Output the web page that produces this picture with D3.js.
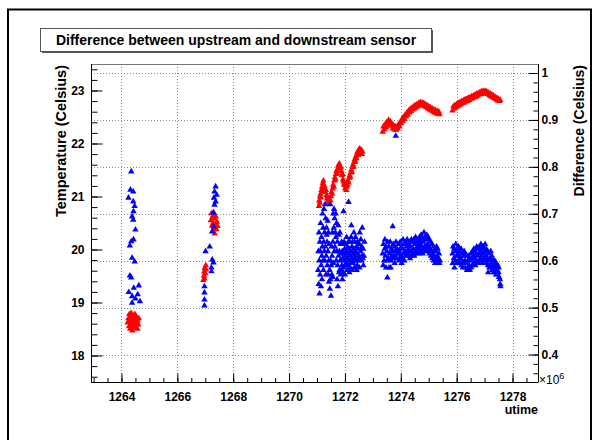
<!DOCTYPE html>
<html><head><meta charset="utf-8">
<script src="https://cdn.jsdelivr.net/npm/d3@7"></script>
<style>
body{margin:0;background:#fff}
svg{display:block}
text{font-family:"Liberation Sans",Arial,Helvetica,sans-serif}
</style>
</head><body><svg id="c" width="600" height="440"></svg>
<script>
// ---------- data ----------
const titleText = "Difference between upstream and downstream sensor";
const xLabel = "utime";
const leftLabel = "Temperature (Celsius)";
const rightLabel = "Difference (Celsius)";
const xTicks = [1264,1266,1268,1270,1272,1274,1276,1278];
const tempTicks = [18,19,20,21,22,23];
const diffTicks = [0.4,0.5,0.6,0.7,0.8,0.9,1];

// red: temperature (left axis), [utime/1e6, Celsius]
const redPoints = [
[1264.22,18.62],[1264.25,18.70],[1264.27,18.55],[1264.28,18.78],[1264.30,18.66],[1264.31,18.50],[1264.33,18.72],
[1264.34,18.60],[1264.35,18.80],[1264.36,18.55],[1264.38,18.68],[1264.39,18.47],[1264.40,18.62],[1264.41,18.75],
[1264.43,18.58],[1264.44,18.70],[1264.45,18.52],[1264.46,18.64],[1264.48,18.78],[1264.49,18.60],[1264.50,18.68],
[1264.52,18.55],[1264.53,18.72],[1264.55,18.63],[1264.57,18.50],[1264.58,18.66],[1264.60,18.58],[1264.62,18.70],
[1266.93,19.42],[1266.95,19.50],[1266.96,19.58],[1266.97,19.45],[1266.98,19.65],[1267.00,19.55],[1267.02,19.70],[1267.03,19.62],
[1267.20,20.55],[1267.22,20.68],[1267.24,20.45],[1267.26,20.62],[1267.27,20.35],[1267.28,20.50],[1267.30,20.70],
[1267.31,20.40],[1267.33,20.58],[1267.34,20.30],[1267.36,20.48],[1267.38,20.62],[1267.40,20.38],[1267.42,20.52],[1267.44,20.44],
[1271.07,20.82],[1271.08,20.92],[1271.10,20.88],[1271.11,21.00],[1271.13,21.05],[1271.14,20.98],[1271.16,21.12],
[1271.18,21.18],[1271.19,21.10],[1271.21,21.25],[1271.23,21.30],[1271.24,21.22],
[1271.26,21.20],[1271.28,21.14],[1271.30,21.08],[1271.32,21.12],[1271.34,21.02],[1271.36,20.96],[1271.38,21.00],
[1271.40,20.92],[1271.42,20.88],[1271.44,20.95],[1271.46,20.86],
[1271.48,20.92],[1271.50,21.00],[1271.52,21.08],[1271.54,21.05],[1271.56,21.15],[1271.58,21.22],[1271.60,21.18],
[1271.62,21.30],[1271.64,21.36],[1271.66,21.32],[1271.68,21.42],[1271.70,21.48],[1271.72,21.44],[1271.74,21.52],
[1271.76,21.58],[1271.78,21.54],[1271.80,21.62],[1271.82,21.58],
[1271.85,21.55],[1271.87,21.48],[1271.89,21.40],[1271.91,21.42],[1271.93,21.32],[1271.95,21.28],[1271.97,21.22],
[1271.99,21.25],[1272.01,21.15],[1272.03,21.20],[1272.05,21.12],[1272.07,21.18],
[1272.09,21.22],[1272.11,21.30],[1272.13,21.26],[1272.15,21.35],[1272.17,21.40],[1272.19,21.36],[1272.21,21.45],
[1272.23,21.50],[1272.25,21.46],[1272.27,21.55],[1272.29,21.60],[1272.31,21.56],[1272.33,21.65],[1272.35,21.70],
[1272.37,21.66],[1272.39,21.75],[1272.41,21.72],[1272.43,21.80],[1272.45,21.84],[1272.47,21.78],[1272.49,21.88],
[1272.51,21.85],[1272.53,21.90],[1272.55,21.86],[1272.57,21.82],[1272.59,21.88],[1272.61,21.80],[1272.63,21.84],
[1273.35,22.22],[1273.38,22.32],[1273.41,22.26],[1273.44,22.36],[1273.47,22.30],[1273.50,22.40],[1273.53,22.34],
[1273.56,22.44],[1273.59,22.38],[1273.62,22.42],[1273.65,22.33],[1273.68,22.37],[1273.71,22.28],[1273.74,22.34],
[1273.77,22.26],[1273.80,22.32],[1273.83,22.25],[1273.86,22.31],[1273.89,22.28],[1273.92,22.36],[1273.95,22.32],
[1273.98,22.40],[1274.01,22.38],[1274.04,22.46],[1274.07,22.42],[1274.10,22.50],[1274.13,22.46],[1274.16,22.54],
[1274.19,22.51],[1274.22,22.58],[1274.25,22.54],[1274.28,22.62],[1274.31,22.58],[1274.34,22.65],[1274.37,22.61],
[1274.40,22.67],[1274.43,22.64],[1274.46,22.70],[1274.49,22.66],[1274.52,22.72],[1274.55,22.68],[1274.58,22.74],
[1274.61,22.70],[1274.64,22.76],[1274.67,22.72],[1274.70,22.78],[1274.73,22.73],[1274.76,22.77],[1274.79,22.72],
[1274.82,22.76],[1274.85,22.70],[1274.88,22.74],[1274.91,22.68],[1274.94,22.72],[1274.97,22.66],[1275.00,22.70],
[1275.03,22.64],[1275.06,22.68],[1275.09,22.62],[1275.12,22.66],[1275.15,22.60],[1275.18,22.64],[1275.21,22.58],
[1275.24,22.63],[1275.27,22.57],[1275.30,22.61],[1275.33,22.56],[1275.36,22.60],[1275.39,22.55],
[1275.85,22.62],[1275.88,22.70],[1275.91,22.66],[1275.94,22.72],[1275.97,22.68],[1276.00,22.74],[1276.03,22.70],
[1276.06,22.76],[1276.09,22.72],[1276.12,22.78],[1276.15,22.74],[1276.18,22.80],[1276.21,22.76],[1276.24,22.81],
[1276.27,22.77],[1276.30,22.83],[1276.33,22.79],[1276.36,22.84],[1276.39,22.80],[1276.42,22.86],[1276.45,22.82],
[1276.48,22.87],[1276.51,22.84],[1276.54,22.89],[1276.57,22.85],[1276.60,22.90],[1276.63,22.87],[1276.66,22.92],
[1276.69,22.88],[1276.72,22.94],[1276.75,22.90],[1276.78,22.95],[1276.81,22.92],[1276.84,22.97],[1276.87,22.93],
[1276.90,22.98],[1276.93,22.94],[1276.96,22.99],[1276.99,22.95],[1277.02,22.99],[1277.05,22.94],[1277.08,22.98],
[1277.11,22.93],[1277.14,22.96],[1277.17,22.91],[1277.20,22.94],[1277.23,22.89],[1277.26,22.92],[1277.29,22.87],
[1277.32,22.90],[1277.35,22.85],[1277.38,22.88],[1277.41,22.83],[1277.44,22.86],[1277.47,22.81],[1277.50,22.84],
[1277.53,22.80],[1277.56,22.82]
];

// blue: difference (right axis), [utime/1e6, Celsius]
const bluePoints = [
[1264.35,0.790],[1264.32,0.751],[1264.42,0.747],[1264.25,0.734],[1264.42,0.726],[1264.47,0.716],[1264.43,0.705],
[1264.38,0.694],[1264.42,0.687],[1264.50,0.666],[1264.43,0.645],[1264.35,0.641],[1264.30,0.632],[1264.38,0.606],
[1264.47,0.598],[1264.30,0.568],[1264.35,0.564],[1264.62,0.547],[1264.44,0.542],[1264.26,0.533],[1264.38,0.524],
[1264.58,0.528],[1264.50,0.519],[1264.66,0.513],[1264.38,0.510],
[1267.37,0.758],[1267.33,0.747],[1267.41,0.740],[1267.31,0.734],[1267.37,0.726],[1267.33,0.719],[1267.29,0.702],
[1267.29,0.673],[1267.25,0.662],[1267.16,0.630],[1267.01,0.620],[1267.25,0.602],[1267.29,0.596],[1267.22,0.585],
[1267.22,0.577],[1266.97,0.545],[1266.97,0.532],[1266.97,0.517],[1266.97,0.504],
[1271.04,0.58],[1271.05,0.62],[1271.06,0.55],[1271.07,0.66],[1271.08,0.60],[1271.09,0.53],[1271.10,0.64],
[1271.11,0.57],[1271.12,0.62],[1271.13,0.68],[1271.14,0.545],[1271.15,0.59],[1271.16,0.65],[1271.17,0.61],
[1271.18,0.56],[1271.19,0.63],[1271.20,0.70],[1271.21,0.60],[1271.22,0.67],[1271.23,0.58],[1271.24,0.64],
[1271.25,0.71],[1271.26,0.62],[1271.27,0.66],[1271.28,0.60],[1271.29,0.72],[1271.30,0.63],[1271.31,0.69],
[1271.32,0.57],[1271.33,0.61],[1271.34,0.67],[1271.35,0.655],[1271.36,0.64],[1271.37,0.59],[1271.38,0.685],
[1271.39,0.62],[1271.40,0.57],[1271.41,0.66],[1271.42,0.60],[1271.43,0.555],[1271.44,0.635],[1271.45,0.58],
[1271.46,0.54],[1271.47,0.72],[1271.48,0.56],[1271.49,0.60],[1271.50,0.525],[1271.51,0.59],[1271.52,0.63],
[1271.53,0.57],[1271.54,0.61],[1271.55,0.66],[1271.56,0.565],[1271.57,0.64],[1271.58,0.70],[1271.59,0.595],
[1271.60,0.67],[1271.61,0.71],[1271.62,0.62],[1271.63,0.69],[1271.64,0.63],[1271.66,0.66],[1271.67,0.70],
[1271.68,0.65],[1271.69,0.60],[1271.70,0.68],[1271.71,0.62],[1271.72,0.56],[1271.73,0.64],[1271.74,0.59],
[1271.75,0.545],[1271.76,0.675],[1271.77,0.61],[1271.78,0.655],[1271.79,0.575],[1271.80,0.62],[1271.81,0.58],
[1271.82,0.66],[1271.83,0.60],[1271.84,0.635],[1271.85,0.57],[1271.86,0.615],[1271.87,0.58],[1271.88,0.64],
[1271.89,0.59],[1271.90,0.62],[1271.91,0.56],[1271.92,0.605],[1271.93,0.635],[1271.94,0.575],[1271.95,0.705],
[1271.95,0.585],[1271.96,0.615],[1271.97,0.64],[1271.98,0.60],[1271.99,0.625],[1272.00,0.57],[1272.01,0.61],
[1272.02,0.59],[1272.03,0.635],[1272.04,0.595],[1272.05,0.62],[1272.06,0.65],[1272.07,0.605],[1272.08,0.58],
[1272.09,0.63],[1272.10,0.615],[1272.11,0.59],[1272.12,0.64],[1272.13,0.725],[1272.14,0.60],[1272.15,0.625],
[1272.16,0.575],[1272.17,0.61],[1272.18,0.64],[1272.19,0.585],[1272.20,0.62],[1272.21,0.595],[1272.22,0.65],
[1272.23,0.675],[1272.24,0.605],[1272.25,0.63],[1272.26,0.58],[1272.27,0.615],[1272.28,0.64],[1272.29,0.595],
[1272.30,0.60],[1272.31,0.625],[1272.32,0.66],[1272.33,0.61],[1272.34,0.585],[1272.35,0.64],[1272.36,0.62],
[1272.37,0.60],[1272.38,0.65],[1272.40,0.605],[1272.41,0.63],[1272.42,0.58],[1272.43,0.615],[1272.44,0.59],
[1272.45,0.64],[1272.46,0.60],[1272.47,0.625],[1272.48,0.605],[1272.50,0.61],[1272.51,0.635],[1272.52,0.585],
[1272.53,0.66],[1272.55,0.605],[1272.56,0.62],[1272.57,0.645],[1272.59,0.60],[1272.60,0.63],[1272.61,0.61],
[1272.62,0.67],[1272.64,0.605],[1272.65,0.625],[1272.66,0.59],[1272.68,0.61],[1272.70,0.64],
[1273.35,0.615],[1273.37,0.59],[1273.38,0.635],[1273.40,0.60],[1273.42,0.625],[1273.43,0.645],[1273.45,0.61],
[1273.47,0.585],[1273.48,0.63],[1273.50,0.62],[1273.51,0.60],[1273.52,0.564],[1273.53,0.64],[1273.55,0.605],
[1273.57,0.63],[1273.58,0.585],[1273.60,0.615],[1273.62,0.64],[1273.64,0.585],[1273.65,0.60],[1273.67,0.625],
[1273.68,0.61],[1273.70,0.62],[1273.71,0.673],[1273.72,0.605],[1273.73,0.635],[1273.75,0.61],[1273.77,0.63],
[1273.78,0.595],[1273.80,0.62],[1273.82,0.866],[1273.83,0.64],[1273.85,0.605],[1273.87,0.625],[1273.88,0.615],
[1273.90,0.615],[1273.92,0.635],[1273.93,0.60],[1273.95,0.62],[1273.97,0.605],[1273.98,0.64],[1274.00,0.61],
[1274.02,0.63],[1274.03,0.595],[1274.05,0.625],[1274.07,0.605],[1274.08,0.645],[1274.10,0.615],[1274.12,0.635],
[1274.13,0.60],[1274.15,0.62],[1274.17,0.64],[1274.18,0.61],[1274.20,0.63],[1274.22,0.61],[1274.23,0.645],
[1274.25,0.615],[1274.27,0.635],[1274.28,0.625],[1274.30,0.62],[1274.32,0.64],[1274.33,0.605],[1274.35,0.63],
[1274.37,0.61],[1274.38,0.645],[1274.40,0.62],[1274.42,0.64],[1274.43,0.615],[1274.45,0.625],[1274.47,0.645],
[1274.48,0.61],[1274.50,0.635],[1274.52,0.615],[1274.53,0.65],[1274.55,0.62],[1274.57,0.64],[1274.58,0.63],
[1274.60,0.63],[1274.62,0.645],[1274.63,0.615],[1274.65,0.625],[1274.67,0.65],[1274.68,0.64],[1274.70,0.635],
[1274.72,0.62],[1274.73,0.655],[1274.75,0.63],[1274.77,0.645],[1274.78,0.615],[1274.80,0.64],[1274.82,0.625],
[1274.83,0.66],[1274.85,0.63],[1274.87,0.65],[1274.88,0.62],[1274.90,0.645],[1274.92,0.625],[1274.93,0.655],
[1274.95,0.635],[1274.97,0.62],[1274.98,0.65],[1275.00,0.63],[1275.02,0.645],[1275.03,0.615],[1275.05,0.625],
[1275.07,0.64],[1275.08,0.61],[1275.10,0.62],[1275.12,0.635],[1275.13,0.605],[1275.15,0.615],[1275.17,0.63],
[1275.18,0.60],[1275.20,0.61],[1275.22,0.625],[1275.23,0.595],[1275.25,0.62],[1275.27,0.605],[1275.28,0.63],
[1275.30,0.61],[1275.32,0.625],[1275.33,0.60],[1275.35,0.605],[1275.37,0.615],[1275.38,0.595],[1275.40,0.60],
[1275.85,0.615],[1275.86,0.595],[1275.87,0.63],[1275.90,0.605],[1275.91,0.625],[1275.92,0.585],[1275.95,0.62],
[1275.96,0.60],[1275.97,0.635],[1276.00,0.61],[1276.01,0.625],[1276.02,0.595],[1276.05,0.615],[1276.06,0.60],
[1276.07,0.63],[1276.10,0.61],[1276.11,0.62],[1276.12,0.595],[1276.15,0.605],[1276.16,0.625],[1276.17,0.59],
[1276.20,0.60],[1276.21,0.615],[1276.22,0.585],[1276.25,0.61],[1276.26,0.595],[1276.27,0.62],[1276.30,0.60],
[1276.31,0.585],[1276.32,0.615],[1276.35,0.595],[1276.36,0.61],[1276.37,0.58],[1276.40,0.60],[1276.41,0.585],
[1276.42,0.61],[1276.45,0.59],[1276.46,0.605],[1276.47,0.58],[1276.50,0.60],[1276.51,0.615],[1276.52,0.585],
[1276.55,0.605],[1276.56,0.59],[1276.57,0.62],[1276.60,0.61],[1276.61,0.595],[1276.62,0.625],[1276.65,0.605],
[1276.66,0.62],[1276.67,0.59],[1276.70,0.615],[1276.71,0.60],[1276.72,0.63],[1276.75,0.61],[1276.76,0.625],
[1276.77,0.595],[1276.80,0.615],[1276.81,0.60],[1276.82,0.63],[1276.85,0.62],[1276.86,0.605],[1276.87,0.635],
[1276.90,0.61],[1276.91,0.625],[1276.92,0.595],[1276.95,0.615],[1276.96,0.63],[1276.97,0.60],[1277.00,0.62],
[1277.01,0.605],[1277.02,0.635],[1277.05,0.61],[1277.06,0.625],[1277.07,0.595],[1277.10,0.605],[1277.11,0.62],
[1277.12,0.59],[1277.13,0.575],[1277.15,0.60],[1277.16,0.615],[1277.17,0.585],[1277.20,0.605],[1277.21,0.59],
[1277.22,0.62],[1277.25,0.595],[1277.26,0.61],[1277.27,0.58],[1277.30,0.60],[1277.31,0.585],[1277.32,0.575],
[1277.35,0.59],[1277.36,0.60],[1277.37,0.575],[1277.40,0.585],[1277.41,0.57],[1277.42,0.595],[1277.45,0.58],
[1277.46,0.57],[1277.47,0.59],[1277.50,0.575],[1277.51,0.585],[1277.52,0.565],[1277.55,0.56],[1277.56,0.55],
[1277.57,0.545]
];

// ---------- drawing ----------
const svg = d3.select("#c");
const W = 600, H = 440;
const plot = {l: 91, r: 538, t: 64, b: 382};

svg.append("rect").attr("width", W).attr("height", H).attr("fill", "#fff");
svg.append("rect").attr("x", 8).attr("y", 9.5).attr("width", 583).attr("height", 440)
  .attr("fill", "none").attr("stroke", "#000").attr("stroke-width", 2);

const x = d3.scaleLinear().domain([1262.908, 1278.913]).range([plot.l, plot.r]);
const yT = d3.scaleLinear().domain([17.5, 23.5]).range([plot.b, plot.t]);
const yD = d3.scaleLinear().domain([0.3414, 1.0192]).range([plot.b, plot.t]);

// grid
const grid = svg.append("g").attr("stroke", "#8a8a8a").attr("stroke-dasharray", "1,2").attr("stroke-width", 1);
grid.selectAll(".gx").data(xTicks).join("line")
  .attr("x1", d => Math.round(x(d)) + 0.5).attr("x2", d => Math.round(x(d)) + 0.5)
  .attr("y1", plot.t).attr("y2", plot.b);
grid.selectAll(".gy").data(diffTicks).join("line")
  .attr("x1", plot.l).attr("x2", plot.r)
  .attr("y1", d => Math.round(yD(d)) + 0.5).attr("y2", d => Math.round(yD(d)) + 0.5);

// frame
svg.append("rect").attr("x", plot.l + 0.5).attr("y", plot.t + 0.5)
  .attr("width", plot.r - plot.l).attr("height", plot.b - plot.t)
  .attr("fill", "none").attr("stroke", "#777");

// data
const tri = d3.symbol(d3.symbolTriangle, 18);
svg.append("g").selectAll("path").data(redPoints).join("path")
  .attr("d", tri).attr("fill", "#ff0000")
  .attr("transform", d => `translate(${x(d[0])},${yT(d[1])})`);
svg.append("g").selectAll("path").data(bluePoints).join("path")
  .attr("d", tri).attr("fill", "#0000ff")
  .attr("transform", d => `translate(${x(d[0])},${yD(d[1])})`);

// axes
function styleAxis(g) {
  g.selectAll("text").attr("font-size", 12).attr("font-weight", "bold").attr("fill", "#000")
   .attr("font-family", '"Liberation Sans",Arial,Helvetica,sans-serif');
  g.selectAll("line").attr("stroke", "#000");
  g.select(".domain").attr("stroke", "#000");
}
function minorTicks(lo, hi, step) {
  const out = [];
  for (let v = lo; v <= hi + 1e-9; v += step) out.push(+v.toFixed(4));
  return out;
}

// bottom
svg.append("g").attr("transform", `translate(0,${plot.b + 0.5})`)
  .call(d3.axisBottom(x).tickValues(minorTicks(1263, 1278.5, 0.5)).tickSize(-4.5).tickFormat(""))
  .call(g => g.select(".domain").remove()).call(styleAxis);
svg.append("g").attr("transform", `translate(0,${plot.b + 0.5})`)
  .call(d3.axisBottom(x).tickValues(xTicks).tickSize(-9).tickPadding(10).tickFormat(d3.format("d")))
  .call(styleAxis).call(g => g.select(".domain").attr("d", `M${plot.l},0H${plot.r}`));

// left
svg.append("g").attr("transform", `translate(${plot.l + 0.5},0)`)
  .call(d3.axisLeft(yT).tickValues(minorTicks(17.6, 23.4, 0.2)).tickSize(-6).tickFormat(""))
  .call(g => g.select(".domain").remove()).call(styleAxis);
svg.append("g").attr("transform", `translate(${plot.l + 0.5},0)`)
  .call(d3.axisLeft(yT).tickValues(tempTicks).tickSize(-11).tickPadding(7).tickFormat(d3.format("d")))
  .call(styleAxis).call(g => g.select(".domain").attr("d", `M0,${plot.t}V${plot.b}`));

// right
svg.append("g").attr("transform", `translate(${plot.r + 0.5},0)`)
  .call(d3.axisRight(yD).tickValues(minorTicks(0.36, 1.0, 0.02)).tickSize(-5).tickFormat(""))
  .call(g => g.select(".domain").remove()).call(styleAxis);
svg.append("g").attr("transform", `translate(${plot.r + 0.5},0)`)
  .call(d3.axisRight(yD).tickValues(diffTicks).tickSize(-10).tickPadding(3).tickFormat(d => d === 1 ? "1" : d3.format(".1f")(d)))
  .call(styleAxis).call(g => g.select(".domain").attr("d", `M0,${plot.t}V${plot.b}`));

// exponent
const ex = svg.append("text").attr("x", 539).attr("y", 384).attr("font-size", 12).attr("fill", "#000");
ex.append("tspan").text("\u00d710");
ex.append("tspan").attr("dy", -5).attr("font-size", 9).text("6");

// axis titles
svg.append("text").attr("x", plot.r).attr("y", 414).attr("text-anchor", "end")
  .attr("font-size", 12.5).attr("font-weight", "bold").text(xLabel);
svg.append("text").attr("transform", `translate(66,${plot.t + 1}) rotate(-90)`).attr("text-anchor", "end")
  .attr("font-size", 14.5).attr("font-weight", "bold").text(leftLabel);
svg.append("text").attr("transform", `translate(584,${plot.t + 1}) rotate(-90)`).attr("text-anchor", "end")
  .attr("font-size", 14).attr("font-weight", "bold").text(rightLabel);

// title box
svg.append("rect").attr("x", 42).attr("y", 30).attr("width", 391).attr("height", 23).attr("fill", "#555");
svg.append("rect").attr("x", 40.5).attr("y", 28.5).attr("width", 391).attr("height", 23)
  .attr("fill", "#fff").attr("stroke", "#555");
svg.append("text").attr("x", 236).attr("y", 45).attr("text-anchor", "middle")
  .attr("font-size", 14).attr("font-weight", "bold").text(titleText);
</script>
</body></html>
